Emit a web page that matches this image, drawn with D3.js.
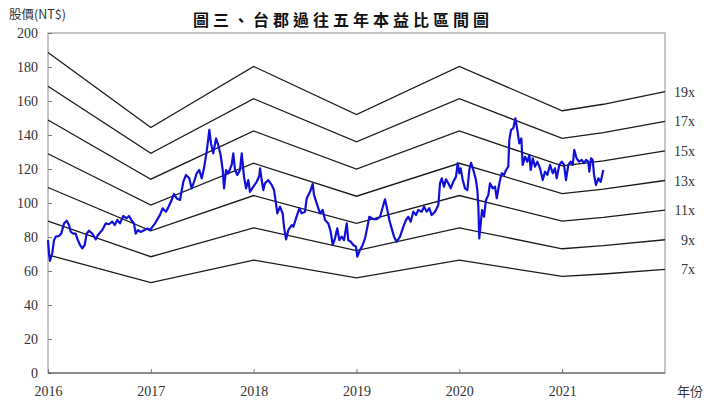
<!DOCTYPE html>
<html>
<head>
<meta charset="utf-8">
<script src="https://cdn.jsdelivr.net/npm/d3@7"></script>
<style>
  html, body { margin: 0; padding: 0; background: #fff; }
  svg { display: block; }
  .tick text { font-family: "Liberation Serif", "DejaVu Serif", serif; font-size: 14px; fill: #333; }
</style>
</head>
<body>
<svg id="chart" width="720" height="413"></svg>
<script>
// ---- DATA ----
const yearTicks = [2016, 2017, 2018, 2019, 2020, 2021];
const priceTicks = [0, 20, 40, 60, 80, 100, 120, 140, 160, 180, 200];
const multiples = [7, 9, 11, 13, 15, 17, 19];

// trailing EPS at band vertices
const epsYears = [2016, 2017, 2018, 2019, 2020, 2021, 2021.4, 2022];
const epsValues = [9.92, 7.60, 9.49, 8.00, 9.49, 8.12, 8.32, 8.71];

// share price (decimal year, NT$)
const priceYears = [
  2016.000, 2016.010, 2016.019, 2016.042, 2016.058, 2016.075, 2016.107, 2016.129, 2016.156, 2016.182,
  2016.204, 2016.221, 2016.246, 2016.269, 2016.285, 2016.311, 2016.334, 2016.357, 2016.376, 2016.399,
  2016.431, 2016.464, 2016.486, 2016.528, 2016.561, 2016.593, 2016.625, 2016.649, 2016.674, 2016.700,
  2016.732, 2016.765, 2016.788, 2016.810, 2016.836, 2016.853, 2016.875, 2016.901, 2016.934, 2016.966,
  2016.992, 2017.041, 2017.089, 2017.115, 2017.148, 2017.170, 2017.203, 2017.225, 2017.252, 2017.284,
  2017.316, 2017.342, 2017.374, 2017.397, 2017.420, 2017.446, 2017.471, 2017.495, 2017.517, 2017.543,
  2017.569, 2017.585, 2017.607, 2017.634, 2017.656, 2017.679, 2017.699, 2017.712, 2017.731, 2017.753,
  2017.786, 2017.802, 2017.819, 2017.841, 2017.867, 2017.884, 2017.906, 2017.926, 2017.948, 2017.964,
  2017.997, 2018.030, 2018.055, 2018.062, 2018.078, 2018.094, 2018.110, 2018.142, 2018.175, 2018.198,
  2018.217, 2018.230, 2018.256, 2018.282, 2018.295, 2018.315, 2018.337, 2018.370, 2018.386, 2018.412,
  2018.444, 2018.467, 2018.499, 2018.516, 2018.548, 2018.574, 2018.587, 2018.613, 2018.645, 2018.671,
  2018.694, 2018.726, 2018.749, 2018.769, 2018.791, 2018.813, 2018.833, 2018.856, 2018.879, 2018.905,
  2018.920, 2018.944, 2018.969, 2018.995, 2019.008, 2019.034, 2019.060, 2019.083, 2019.106, 2019.125,
  2019.164, 2019.197, 2019.229, 2019.261, 2019.277, 2019.300, 2019.319, 2019.342, 2019.365, 2019.391,
  2019.423, 2019.455, 2019.481, 2019.504, 2019.527, 2019.552, 2019.579, 2019.601, 2019.634, 2019.657,
  2019.683, 2019.708, 2019.731, 2019.764, 2019.796, 2019.812, 2019.829, 2019.851, 2019.870, 2019.893,
  2019.916, 2019.941, 2019.968, 2019.984, 2020.000, 2020.013, 2020.033, 2020.055, 2020.078, 2020.097,
  2020.114, 2020.136, 2020.162, 2020.175, 2020.185, 2020.194, 2020.208, 2020.221, 2020.240, 2020.259,
  2020.282, 2020.298, 2020.325, 2020.347, 2020.364, 2020.389, 2020.412, 2020.435, 2020.454, 2020.476,
  2020.486, 2020.503, 2020.525, 2020.545, 2020.564, 2020.583, 2020.603, 2020.616, 2020.639, 2020.661,
  2020.681, 2020.694, 2020.714, 2020.736, 2020.758, 2020.785, 2020.811, 2020.833, 2020.856, 2020.882,
  2020.908, 2020.930, 2020.947, 2020.972, 2020.996, 2021.018, 2021.037, 2021.060, 2021.083, 2021.103,
  2021.118, 2021.141, 2021.164, 2021.190, 2021.212, 2021.232, 2021.254, 2021.264, 2021.281, 2021.297,
  2021.310, 2021.329, 2021.352, 2021.375, 2021.400
];
const priceValues = [
  78.2, 70.4, 66.0, 70.6, 78.0, 80.2, 80.6, 82.0, 88.0, 89.6,
  87.0, 83.0, 82.0, 82.0, 79.0, 75.3, 73.3, 75.3, 82.0, 83.7,
  82.0, 78.6, 81.2, 84.1, 88.0, 87.5, 89.0, 87.0, 90.0, 88.0,
  92.4, 91.0, 92.4, 90.0, 88.0, 82.0, 84.0, 83.0, 84.0, 85.0,
  84.0, 88.0, 93.0, 96.9, 94.9, 97.5, 101.8, 105.3, 102.7, 101.8,
  112.5, 116.5, 114.5, 108.6, 112.5, 117.5, 119.4, 114.5, 120.4, 130.2,
  143.0, 135.0, 129.2, 138.0, 134.0, 128.2, 119.4, 108.6, 119.4, 117.5,
  122.4, 129.2, 119.4, 116.5, 119.4, 129.2, 115.5, 108.6, 113.5, 106.6,
  109.6, 112.5, 116.0, 120.4, 113.5, 107.6, 111.6, 113.5, 110.6, 107.6,
  99.8, 93.9, 97.8, 93.9, 86.0, 78.6, 84.1, 87.0, 86.0, 91.0,
  96.9, 93.9, 94.9, 102.8, 106.6, 111.2, 104.7, 99.8, 93.9, 95.9,
  90.0, 88.0, 83.1, 75.3, 79.2, 85.1, 78.2, 80.2, 78.2, 88.0,
  78.2, 77.2, 75.3, 74.3, 68.4, 72.4, 75.3, 79.2, 86.0, 91.9,
  90.5, 90.5, 91.9, 98.8, 102.2, 95.9, 90.0, 85.1, 80.2, 77.2,
  80.2, 86.0, 90.0, 91.9, 89.0, 94.9, 92.9, 95.9, 94.9, 97.8,
  94.9, 96.9, 92.9, 94.9, 98.8, 111.6, 114.5, 109.6, 113.9, 111.6,
  108.6, 112.5, 115.5, 123.4, 117.5, 120.4, 113.5, 108.6, 107.6, 119.4,
  123.7, 119.4, 113.5, 107.6, 97.8, 79.2, 88.0, 95.9, 91.9, 101.8,
  104.7, 111.6, 108.6, 109.6, 102.8, 111.6, 117.5, 116.5, 119.4, 121.4,
  137.1, 143.0, 144.0, 149.8, 143.0, 135.1, 138.0, 122.4, 127.2, 124.3,
  128.2, 119.4, 126.3, 121.4, 124.3, 120.4, 113.5, 118.4, 116.5, 122.4,
  117.5, 120.4, 114.5, 122.4, 124.3, 122.4, 113.5, 122.4, 124.3, 122.4,
  131.2, 126.3, 124.3, 125.3, 123.4, 125.3, 124.3, 118.4, 126.3, 125.3,
  116.5, 110.6, 114.5, 112.5, 119.4
];

// ---- LAYOUT ----
const svg = d3.select('#chart');
const plot = { left: 48, right: 665, top: 33, bottom: 373 };
const serif = '"Liberation Serif", "DejaVu Serif", serif';
const cjk = '"Noto Sans CJK TC", "Noto Sans CJK SC", sans-serif';

const x = d3.scaleLinear().domain([2016, 2022]).range([plot.left, plot.right]);
const y = d3.scaleLinear().domain([0, 200]).range([plot.bottom, plot.top]);

// frame
svg.append('rect')
  .attr('x', plot.left).attr('y', plot.top)
  .attr('width', plot.right - plot.left).attr('height', plot.bottom - plot.top)
  .attr('fill', 'none').attr('stroke', '#8c8c8c').attr('stroke-width', 1);

// ---- AXES ----
const xAxis = svg.append('g')
  .attr('transform', `translate(0,${plot.bottom})`)
  .call(d3.axisBottom(x).tickValues(yearTicks).tickFormat(d3.format('d')).tickSize(-4).tickPadding(13));
const yAxis = svg.append('g')
  .attr('transform', `translate(${plot.left},0)`)
  .call(d3.axisLeft(y).tickValues(priceTicks).tickSize(-4).tickPadding(10));
[xAxis, yAxis].forEach(a => {
  a.select('.domain').remove();
  a.selectAll('.tick line').attr('stroke', '#777');
});
svg.append('line')
  .attr('x1', plot.left).attr('x2', plot.right)
  .attr('y1', plot.bottom).attr('y2', plot.bottom)
  .attr('stroke', '#555');

// ---- PE BANDS ----
const bandLine = d3.line().x(d => x(d[0])).y(d => y(d[1]));
multiples.forEach(m => {
  const pts = epsYears.map((yr, i) => [yr, epsValues[i] * m]);
  svg.append('path')
    .attr('d', bandLine(pts))
    .attr('fill', 'none')
    .attr('stroke', '#1a1a1a')
    .attr('stroke-width', 1.3);
  svg.append('text')
    .attr('x', 695)
    .attr('y', y(pts[pts.length - 1][1]) + 5)
    .attr('text-anchor', 'end')
    .attr('font-family', serif)
    .attr('font-size', 14)
    .attr('fill', '#333')
    .text(m + 'x');
});

// ---- PRICE ----
const priceLine = d3.line().x((d, i) => x(priceYears[i])).y(d => y(d));
svg.append('path')
  .attr('d', priceLine(priceValues))
  .attr('fill', 'none')
  .attr('stroke', '#1010d8')
  .attr('stroke-width', 2.2)
  .attr('stroke-linejoin', 'round');

// ---- TEXT ----
svg.append('text')
  .attr('x', 343).attr('y', 26)
  .attr('text-anchor', 'middle')
  .attr('font-family', cjk)
  .attr('font-weight', 'bold')
  .attr('font-size', 16)
  .attr('letter-spacing', 4)
  .attr('fill', '#111')
  .text('圖三、台郡過往五年本益比區間圖');

svg.append('text')
  .attr('x', 9).attr('y', 19)
  .attr('font-family', cjk)
  .attr('font-size', 12.5)
  .attr('fill', '#333')
  .text('股價(NT$)');

svg.append('text')
  .attr('x', 690).attr('y', 396)
  .attr('text-anchor', 'middle')
  .attr('font-family', cjk)
  .attr('font-size', 13)
  .attr('fill', '#333')
  .text('年份');
</script>
</body>
</html>
